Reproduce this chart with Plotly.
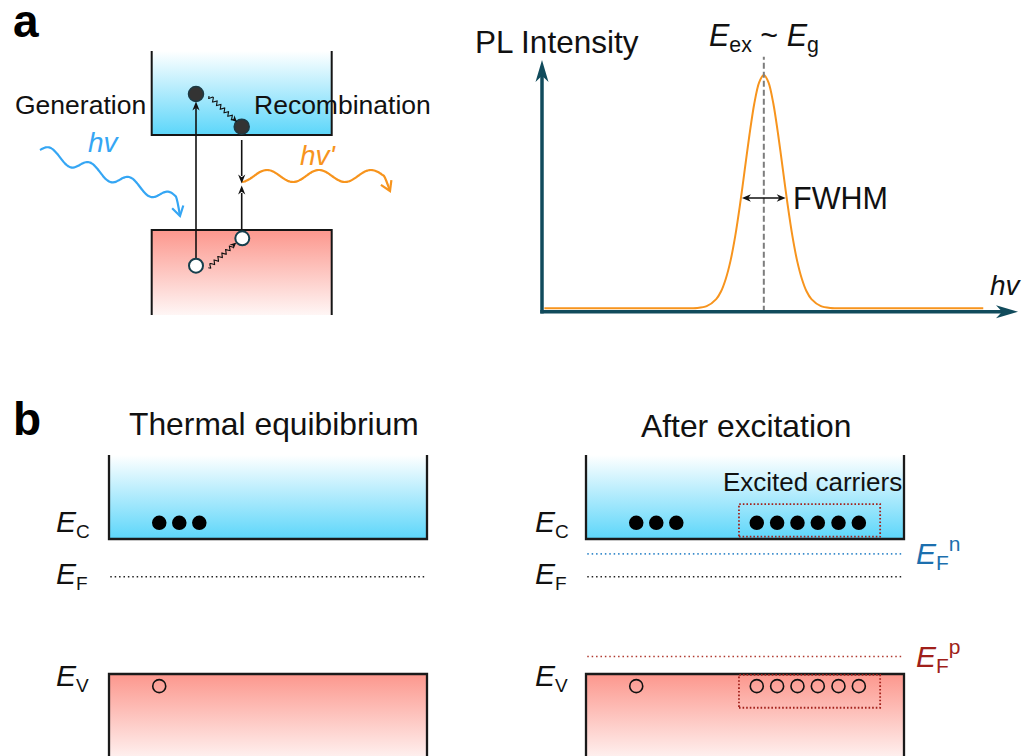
import numpy as np
import plotly.graph_objects as go

W, H = 1029, 756

# ====================== DATA ======================
# (a, right) PL spectrum: photon energy (normalised to axis length) vs PL intensity (normalised)
pl_hv = [0.005, 0.200, 0.296, 0.326, 0.346, 0.366, 0.376, 0.386, 0.396, 0.406, 0.416,
         0.426, 0.436, 0.446, 0.456, 0.466, 0.476, 0.486, 0.496, 0.506, 0.516,
         0.526, 0.536, 0.546, 0.556, 0.566, 0.586, 0.606, 0.636, 0.750, 0.927]
pl_intensity = [0.0135, 0.0135, 0.0136, 0.015, 0.022, 0.050, 0.080, 0.130, 0.202, 0.301, 0.425,
                0.565, 0.705, 0.827, 0.910, 0.940, 0.910, 0.827, 0.705, 0.565, 0.425,
                0.301, 0.202, 0.130, 0.080, 0.050, 0.022, 0.015, 0.0136, 0.0135, 0.0135]
pl_peak_hv = 0.466            # E_ex ~ E_g
pl_half_level = 0.452         # level of the FWHM arrow
pl_fwhm = [0.420, 0.512]      # ends of the FWHM arrow

# (b) band diagram energies (E_V = 0, E_C = 1)
E_V, E_C = 0.0, 1.0
E_F = 0.72
E_Fn = 0.89
E_Fp = 0.13
E_electron = 1.12
E_hole = -0.09
eq_electrons_x = [0.158, 0.221, 0.284]
eq_holes_x = [0.158]
exc_electrons_x = [0.158, 0.221, 0.284, 0.537, 0.601, 0.665, 0.729, 0.794, 0.858]
exc_holes_x = [0.158, 0.537, 0.601, 0.665, 0.729, 0.794, 0.858]
excited_box_x = [0.481, 0.925]
excited_box_e = [1.017, 1.259]
excited_box_h = [-0.250, -0.007]
panel_titles = ["Thermal equibibrium", "After excitation"]
band_subs = ["C", "F", "V"]

# ====================== STYLE / GEOMETRY ======================
FONT = "Liberation Sans, Arial, sans-serif"
CYAN = "#5cd6fa"
SALMON = "#fc978d"
AXC = "#114b5c"
ORANGE = "#f7941d"
BLUE = "#35a6f4"
FN_BLUE = "#1c6fae"
FP_RED = "#a01f1a"
DOT_RED = "#a3221c"

# PL subplot mapping (pixels)
PL_X0, PL_XS = 542.0, 476.0      # hv = 0 at x=542, hv = 1 at x=1018
PL_Y0, PL_YS = 311.7, 251.7      # I = 0 at y=311.7, I = 1 at y=60
PL_DX = (530.0, 1026.0)
PL_DY = (48.0, 322.0)            # top, bottom

# band panels (pixels)
B_Y0, B_YS = 674.0, 135.0        # E_V at y=674, E_C at y=539
B_DY = (440.0, 756.0)
B_W = 318.0
B_X0 = [109.0, 586.0]
B_M = 15.0
E_TOP = 1.622                    # top of drawn conduction band
E_BOT = -0.75

fig = go.Figure()


def scat(**kw):
    kw.setdefault("hoverinfo", "skip")
    kw.setdefault("showlegend", False)
    fig.add_trace(go.Scatter(**kw))


def head_abs(tip, d, L, hw, notch=0.3):
    tx, ty = tip
    dx, dy = d
    n = np.hypot(dx, dy)
    ux, uy = dx / n, dy / n
    px, py = -uy, ux
    bx, by = tx - L * ux, ty - L * uy
    mx, my = tx - L * (1 - notch) * ux, ty - L * (1 - notch) * uy
    return (f"M{tx:.2f},{ty:.2f} L{bx + hw * px:.2f},{by + hw * py:.2f} "
            f"L{mx:.2f},{my:.2f} L{bx - hw * px:.2f},{by - hw * py:.2f} Z")


shapes = []


def add_head(tip, d, L, hw, color, notch=0.3, xref="x", yref="y"):
    shapes.append(dict(type="path", path=head_abs(tip, d, L, hw, notch), xref=xref, yref=yref,
                       fillcolor=color, line=dict(width=0), layer="above"))


def add_head_px(anchor, d, L, hw, color, xref, yref, notch=0.3):
    # pixel sized head anchored at data point; y up positive
    p = head_abs((0, 0), d, L, hw, notch)
    shapes.append(dict(type="path", path=p, xref=xref, yref=yref, xsizemode="pixel", ysizemode="pixel",
                       xanchor=anchor[0], yanchor=anchor[1], fillcolor=color, line=dict(width=0),
                       layer="above"))


def wiggle(a, b, amp, wl, n=160):
    a = np.array(a, float)
    b = np.array(b, float)
    v = b - a
    L = np.hypot(*v)
    u = v / L
    p = np.array([-u[1], u[0]])
    t = np.linspace(0, 1, n)
    pts = a[None, :] + t[:, None] * v[None, :] + (amp * np.sin(2 * np.pi * t * L / wl))[:, None] * p[None, :]
    return pts[:, 0], pts[:, 1]


# ---------------- panel a (left): band scheme on pixel canvas ----------------
AX0, AX1 = 151.7, 331.7
A_CB = (51.0, 135.0)
A_VB = (230.0, 315.0)

scat(x=[AX0, AX1, AX1, AX0], y=[A_CB[0], A_CB[0], A_CB[1], A_CB[1]], mode="none", fill="toself",
     fillgradient=dict(type="vertical", colorscale=[[0, "#ffffff"], [1, CYAN]], start=A_CB[0], stop=A_CB[1]))
scat(x=[AX0, AX1, AX1, AX0], y=[A_VB[0], A_VB[0], A_VB[1], A_VB[1]], mode="none", fill="toself",
     fillgradient=dict(type="vertical", colorscale=[[0, SALMON], [1, "#ffffff"]], start=A_VB[0], stop=A_VB[1] + 8))
scat(x=[AX0, AX0, AX1, AX1], y=[A_CB[0], A_CB[1], A_CB[1], A_CB[0]], mode="lines",
     line=dict(color="#151515", width=2))
scat(x=[AX0, AX0, AX1, AX1], y=[A_VB[1], A_VB[0], A_VB[0], A_VB[1]], mode="lines",
     line=dict(color="#151515", width=2))

GX, RX = 196.0, 241.7
elec_a = [(GX, 94.0), (RX, 126.7)]
hole_a = [(GX, 265.7), (242.3, 238.3)]

# generation arrow
scat(x=[GX, GX], y=[258, 108], mode="lines", line=dict(color="#111", width=1.6))
add_head((GX, 101.5), (0, -1), 9, 3.6, "#111")
# recombination arrows
scat(x=[RX, RX], y=[140, 176], mode="lines", line=dict(color="#111", width=1.6))
add_head((RX, 183.5), (0, 1), 9, 3.6, "#111")
scat(x=[RX, RX], y=[229, 193], mode="lines", line=dict(color="#111", width=1.6))
add_head((RX, 185.5), (0, -1), 9, 3.6, "#111")

# thermalisation wiggles
wx, wy = wiggle((209, 96), (233, 118.5), 2.0, 5.2)
scat(x=wx, y=wy, mode="lines", line=dict(color="#111", width=1.1))
add_head((237, 122), (1, 0.95), 6.5, 3.0, "#111")
wx, wy = wiggle((208.3, 267.7), (232.5, 246), 2.0, 5.2)
scat(x=wx, y=wy, mode="lines", line=dict(color="#111", width=1.1))
add_head((236.3, 242.5), (1, -0.92), 6.5, 3.0, "#111")

# incoming photon (blue) and emitted photon (orange)
bx = np.linspace(40, 176, 120)
by = 150 + (bx - 40) * 0.37 - 6 * np.sin(2 * np.pi * (bx - 40) / 40)
bx = np.append(bx, 180.0)
by = np.append(by, 216.0)
scat(x=bx, y=by, mode="lines", line=dict(color=BLUE, width=2.2, shape="spline"))
ox = np.linspace(242, 384, 120)
oy = 176 - 6 * np.sin(2 * np.pi * (ox - 254) / 52)
ox = np.append(ox, 390.0)
oy = np.append(oy, 191.0)
scat(x=ox, y=oy, mode="lines", line=dict(color=ORANGE, width=2.2, shape="spline"))


def chevron(tip, d, L, ang, color):
    tx, ty = tip
    a0 = np.arctan2(d[1], d[0]) + np.pi
    xs = [tx + L * np.cos(a0 + ang), tx, tx + L * np.cos(a0 - ang)]
    ys = [ty + L * np.sin(a0 + ang), ty, ty + L * np.sin(a0 - ang)]
    scat(x=xs, y=ys, mode="lines", line=dict(color=color, width=2.2))


chevron((180, 216), (0.25, 1), 11, 0.55, BLUE)
chevron((390, 191), (0.45, 1), 11, 0.55, ORANGE)

scat(x=[p[0] for p in elec_a], y=[p[1] for p in elec_a], mode="markers",
     marker=dict(size=15, color="#333333", line=dict(color="#1c3a44", width=1.5)))
scat(x=[p[0] for p in hole_a], y=[p[1] for p in hole_a], mode="markers",
     marker=dict(size=14, color="#ffffff", line=dict(color="#163f4d", width=2)))

# ---------------- panel a (right): PL spectrum ----------------
scat(x=pl_hv, y=pl_intensity, mode="lines", line=dict(color=ORANGE, width=2, shape="spline", smoothing=0.8),
     xaxis="x2", yaxis="y2")
shapes.append(dict(type="line", xref="x2", yref="y2", x0=pl_peak_hv, x1=pl_peak_hv, y0=0, y1=1.013,
                   line=dict(color="#7d7d7d", width=2, dash="6px,3px"), layer="above"))
shapes.append(dict(type="line", xref="x2", yref="y2", x0=-1.75 / PL_XS, x1=1 - 15 / PL_XS, y0=0, y1=0,
                   line=dict(color=AXC, width=3.5), layer="above"))
shapes.append(dict(type="line", xref="x2", yref="y2", x0=0, x1=0, y0=-1.75 / PL_YS, y1=1 - 15 / PL_YS,
                   line=dict(color=AXC, width=3.5), layer="above"))
add_head_px((1.0, 0.0), (1, 0), 22, 6.5, AXC, "x2", "y2", notch=0.28)
add_head_px((0.0, 1.0), (0, 1), 22, 6.5, AXC, "x2", "y2", notch=0.28)
# FWHM double arrow
shapes.append(dict(type="line", xref="x2", yref="y2", x0=pl_fwhm[0] + 5 / PL_XS, x1=pl_fwhm[1] - 5 / PL_XS,
                   y0=pl_half_level, y1=pl_half_level, line=dict(color="#111", width=1.6), layer="above"))
add_head_px((pl_fwhm[0], pl_half_level), (-1, 0), 9, 3.8, "#111", "x2", "y2")
add_head_px((pl_fwhm[1], pl_half_level), (1, 0), 9, 3.8, "#111", "x2", "y2")

# ---------------- panel b: band diagrams ----------------
for k in range(2):
    xa, ya = ("x3", "y3") if k == 0 else ("x4", "y4")
    scat(x=[0, 1, 1, 0], y=[E_TOP, E_TOP, E_C, E_C], mode="none", fill="toself", xaxis=xa, yaxis=ya,
         fillgradient=dict(type="vertical", colorscale=[[0, "#ffffff"], [1, CYAN]], start=E_TOP, stop=E_C))
    scat(x=[0, 1, 1, 0], y=[E_V, E_V, E_BOT, E_BOT], mode="none", fill="toself", xaxis=xa, yaxis=ya,
         fillgradient=dict(type="vertical", colorscale=[[0, SALMON], [1, "#ffffff"]], start=E_V, stop=-0.72))
    scat(x=[0, 0, 1, 1], y=[E_TOP, E_C, E_C, E_TOP], mode="lines", xaxis=xa, yaxis=ya,
         line=dict(color="#1a1a1a", width=2.3))
    scat(x=[0, 0, 1, 1], y=[E_BOT, E_V, E_V, E_BOT], mode="lines", xaxis=xa, yaxis=ya,
         line=dict(color="#1a1a1a", width=2.3))
    scat(x=[0.004, 0.997], y=[E_F, E_F], mode="lines", xaxis=xa, yaxis=ya,
         line=dict(color="#222", width=1.6, dash="1.5px,2.9px"))
    if k == 1:
        scat(x=[0.004, 0.997], y=[E_Fn, E_Fn], mode="lines", xaxis=xa, yaxis=ya,
             line=dict(color="#3a8ccc", width=1.6, dash="1.5px,2.9px"))
        scat(x=[0.004, 0.997], y=[E_Fp, E_Fp], mode="lines", xaxis=xa, yaxis=ya,
             line=dict(color="#b03a30", width=1.6, dash="1.5px,2.9px"))
        for yy in (excited_box_e, excited_box_h):
            shapes.append(dict(type="rect", xref=xa, yref=ya, x0=excited_box_x[0], x1=excited_box_x[1],
                               y0=yy[0], y1=yy[1], line=dict(color=DOT_RED, width=1.8, dash="1.6px,2.0px"),
                               fillcolor="rgba(0,0,0,0)", layer="above"))
    ex = eq_electrons_x if k == 0 else exc_electrons_x
    hx = eq_holes_x if k == 0 else exc_holes_x
    scat(x=ex, y=[E_electron] * len(ex), mode="markers", xaxis=xa, yaxis=ya,
         marker=dict(size=14.5, color="#000000", line=dict(width=0)))
    scat(x=hx, y=[E_hole] * len(hx), mode="markers", xaxis=xa, yaxis=ya,
         marker=dict(size=13, color="rgba(0,0,0,0)", line=dict(color="#111", width=1.6)))

# ---------------- text ----------------
ann = []


def txt(s, x, y, size, anchor="center", color="#111"):
    ann.append(dict(text=s, x=x, y=y, xref="x", yref="y", showarrow=False, xanchor=anchor,
                    yanchor="middle", font=dict(family=FONT, size=size, color=color)))


txt("<b>a</b>", 11, 21, 46, "left", "#000")
txt("<b>b</b>", 11, 419, 46, "left", "#000")
txt("Generation", 80, 105, 26.5)
txt("Recombination", 342.5, 105, 26.5)
txt("<i>hv</i>", 103.5, 142.3, 28, "center", BLUE)
txt("<i>hv'</i>", 318, 155.6, 28, "center", ORANGE)
txt("PL Intensity", 557, 41.7, 31.5)
txt("<i>E</i><sub>ex</sub> ~ <i>E</i><sub>g</sub>", 764, 37, 30.5)
txt("FWHM", 791, 198, 30.5, "left")
txt("<i>hv</i>", 988, 285.3, 28, "left")
txt(panel_titles[0], 274, 424, 31.8)
txt(panel_titles[1], 746, 425.5, 31.8)
txt("Excited carriers", 812, 482.4, 26)
for lx in (54, 533):
    for sub in band_subs:
        cap_center = {"C": 521, "F": 572.5, "V": 674.5}[sub]
        txt(f"<i>E</i><sub><span style='font-size:19px'>{sub}</span></sub>", lx, cap_center + 2.5, 30, "left")
txt("<i>E</i><sub>F</sub><sup>n</sup>", 914, 552.5, 30, "left", FN_BLUE)
txt("<i>E</i><sub>F</sub><sup>p</sup>", 914, 656, 30, "left", FP_RED)

# ---------------- layout ----------------
def dom_x(a, b):
    return [a / W, b / W]


def dom_y(top, bot):
    return [max(0.0, 1 - bot / H), min(1.0, 1 - top / H)]


hidden = dict(visible=False, fixedrange=True, showgrid=False, zeroline=False)
layout = dict(
    width=W, height=H, margin=dict(l=0, r=0, t=0, b=0),
    paper_bgcolor="#ffffff", plot_bgcolor="rgba(0,0,0,0)", showlegend=False,
    xaxis=dict(domain=[0, 1], range=[0, W], anchor="y", **hidden),
    yaxis=dict(domain=[0, 1], range=[H, 0], anchor="x", **hidden),
    xaxis2=dict(domain=dom_x(*PL_DX), range=[(PL_DX[0] - PL_X0) / PL_XS, (PL_DX[1] - PL_X0) / PL_XS],
                anchor="y2", **hidden),
    yaxis2=dict(domain=dom_y(*PL_DY), range=[(PL_Y0 - PL_DY[1]) / PL_YS, (PL_Y0 - PL_DY[0]) / PL_YS],
                anchor="x2", **hidden),
    shapes=shapes, annotations=ann,
)
for k, (xn, yn) in enumerate((("xaxis3", "yaxis3"), ("xaxis4", "yaxis4"))):
    x0 = B_X0[k]
    layout[xn] = dict(domain=dom_x(x0 - B_M, x0 + B_W + B_M), range=[-B_M / B_W, 1 + B_M / B_W],
                      anchor=yn.replace("axis", ""), **hidden)
    layout[yn] = dict(domain=dom_y(*B_DY), range=[(B_Y0 - B_DY[1]) / B_YS, (B_Y0 - B_DY[0]) / B_YS],
                      anchor=xn.replace("axis", ""), **hidden)
fig.update_layout(**layout)
fig.write_html("out.html", config={"displayModeBar": False},
               post_script="document.body.style.margin='0px';document.body.style.overflow='hidden';")
